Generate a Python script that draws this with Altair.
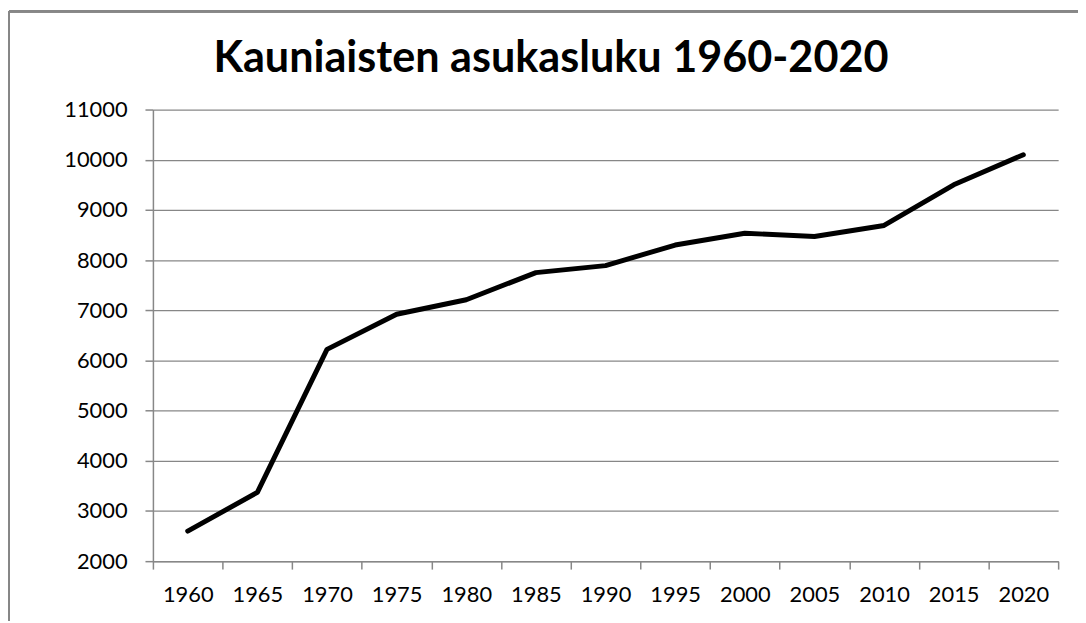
import altair as alt
import pandas as pd

years = ["1960", "1965", "1970", "1975", "1980", "1985", "1990",
         "1995", "2000", "2005", "2010", "2015", "2020"]
population = [2600, 3370, 6220, 6920, 7210, 7750, 7890,
              8300, 8535, 8470, 8690, 9500, 10100]
y_ticks = [2000, 3000, 4000, 5000, 6000, 7000, 8000, 9000, 10000, 11000]
title_text = "Kauniaisten asukasluku 1960-2020"

df = pd.DataFrame({"year": years, "pop": population})

W, H = 912, 455
PAD_L, PAD_T, PAD_R, PAD_B = 146, 100, 20, 60
GRAY = "#878787"
FONT = "Lato"

line = alt.Chart(df).mark_line(
    color="black", strokeWidth=5, strokeCap="round", strokeJoin="round"
).encode(
    x=alt.X("year:O", bandPosition=0.5,
            scale=alt.Scale(type="band", paddingInner=0, paddingOuter=0),
            axis=alt.Axis(title=None, labelAngle=0, tickBand="extent",
                          domainColor=GRAY, domainWidth=1.5, tickColor=GRAY,
                          tickWidth=1.5, tickSize=8, labelPadding=16,
                          labelFont=FONT, labelFontSize=22, labelColor="black",
                          grid=False)),
    y=alt.Y("pop:Q", scale=alt.Scale(domain=[2000, 11000], nice=False, zero=False),
            axis=alt.Axis(title=None, values=y_ticks, format="d",
                          domainColor=GRAY, domainWidth=1.5, tickColor=GRAY,
                          tickWidth=1.5, tickSize=8, labelPadding=18,
                          labelFont=FONT, labelFontSize=22, labelColor="black",
                          grid=True, gridColor=GRAY, gridWidth=1.3)),
)

frame_top = alt.Chart(df).mark_rule(color=GRAY, strokeWidth=2).encode(
    x=alt.value(-145), x2=alt.value(W + PAD_R), y=alt.value(-99)
)
frame_left = alt.Chart(df).mark_rule(color=GRAY, strokeWidth=2).encode(
    x=alt.value(-145), y=alt.value(-99), y2=alt.value(H + PAD_B)
)

chart = alt.layer(frame_top, frame_left, line).properties(
    width=W, height=H,
    title=alt.Title(title_text, font=FONT, fontSize=43.5, fontWeight="bold",
                    color="black", anchor="middle", dx=-55, dy=98, offset=26),
    autosize=alt.AutoSizeParams(type="none"),
    padding={"left": PAD_L, "top": PAD_T, "right": PAD_R, "bottom": PAD_B},
).configure_view(stroke=None)

chart.save("out.html", embed_options={"renderer": "svg", "actions": False})
